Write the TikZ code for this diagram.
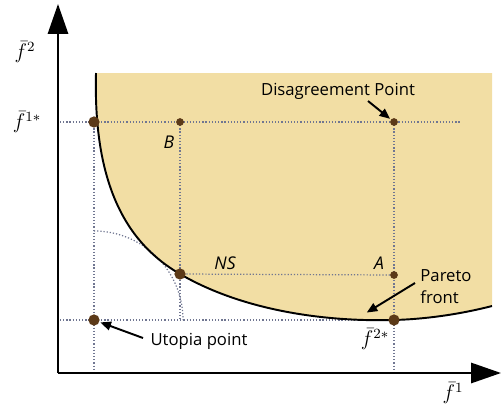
\documentclass[tikz,border=0pt]{standalone}
\usepackage{fontspec}
\setsansfont{Open Sans}
\usepackage{tikz}
\usetikzlibrary{arrows.meta}
\definecolor{regionfill}{RGB}{242,222,164}
\definecolor{dotbrown}{RGB}{92,58,24}
\definecolor{guidegray}{RGB}{112,118,145}

\begin{document}
\begin{tikzpicture}[x=0.02cm,y=-0.02cm,
  bigpt/.style={circle,fill=dotbrown,inner sep=0pt,minimum size=6.4pt},
  smallpt/.style={circle,fill=dotbrown,inner sep=0pt,minimum size=4.4pt},
  guide/.style={guidegray,line width=0.7pt,dash pattern=on 0.7pt off 1.1pt},
  lbl/.style={font=\sffamily\fontsize{9.5}{12.5}\selectfont,inner sep=1pt},
  ilbl/.style={font=\sffamily\itshape\fontsize{10}{12}\selectfont,inner sep=1pt},
  flbl/.style={font=\large,inner sep=1pt},
  callout/.style={-{Triangle[length=6pt,width=5pt]},line width=1.1pt,shorten >=0.5pt},
  axis/.style={-{Triangle[length=17pt,width=11.5pt]},line width=1.2pt}]
\useasboundingbox (0,0) rectangle (501,410);
% feasible region
\fill[regionfill] (96,73) .. controls (93,190) and (130,245) .. (180,274)
   .. controls (240,309) and (320,322) .. (394,320)
   .. controls (430,319) and (465,313) .. (492,306) -- (492,73) -- cycle;
% point places
\coordinate (cfs1) at (94,122);
\coordinate (cut) at (94,320);
\coordinate (cns) at (180,274);
\coordinate (cfs2) at (394,320);
\coordinate (cdp) at (394,122);
\coordinate (cB) at (180,122);
\coordinate (cA) at (394,275);
\coordinate (hl) at (60,122);
\coordinate (hr) at (461,122);
\coordinate (ul) at (60,320);
\coordinate (ubot) at (94,373);
\coordinate (dbot) at (394,373);
\coordinate (bbot) at (180,320);
% guide lines
\draw[guide] (hl) -- (hr);
\draw[guide] (ul) -- (cfs2);
\draw[guide] (cns) -- (cA);
\draw[guide] (cfs1) -- (ubot);
\draw[guide] (cB) -- (bbot);
\draw[guide] (cdp) -- (dbot);
\draw[guide] (94,231) arc[start angle=-90,end angle=0,radius=89];
% Pareto front
\draw[line width=1.1pt] (96,73) .. controls (93,190) and (130,245) .. (180,274)
   .. controls (240,309) and (320,322) .. (394,320)
   .. controls (430,319) and (465,313) .. (492,306);
% axes
\coordinate (O) at (58,373);
\coordinate (ytip) at (58,4);
\coordinate (xtip) at (501,373);
\draw[axis] (O) -- (ytip);
\draw[axis] (O) -- (xtip);
% points
\foreach \n/\s in {fs1/bigpt,ut/bigpt,ns/bigpt,fs2/bigpt,dp/smallpt,B/smallpt,A/smallpt} {
   \node[\s] (\n) at (c\n) {};
}
% labels
\node[flbl] (f2) at (25,52) {$\bar{f}^{2}$};
\node[flbl] (f1s) at (27,122) {$\bar{f}^{1*}$};
\node[flbl] (f2s) at (375,339) {$\bar{f}^{2*}$};
\node[flbl] (f1) at (453,393) {$\bar{f}^{1}$};
\node[ilbl] (Blbl) at (169,142) {B};
\node[ilbl] (Albl) at (379,263) {A};
\node[ilbl] (nslbl) at (225,263) {NS};
\node[lbl] (dtext) at (338,91) {Disagreement Point};
\node[lbl] (utext) at (199,341) {Utopia point};
\node[lbl,align=left] (ptext) at (446,287) {Pareto\\front};
\coordinate (dtail) at (368,101);
\coordinate (utail) at (143,338);
\coordinate (ptail) at (415,283);
\coordinate (phead) at (366,313);
\draw[callout] (dtail) -- (dp);
\draw[callout] (utail) -- (ut);
\draw[callout] (ptail) -- (phead);
\end{tikzpicture}
\end{document}
